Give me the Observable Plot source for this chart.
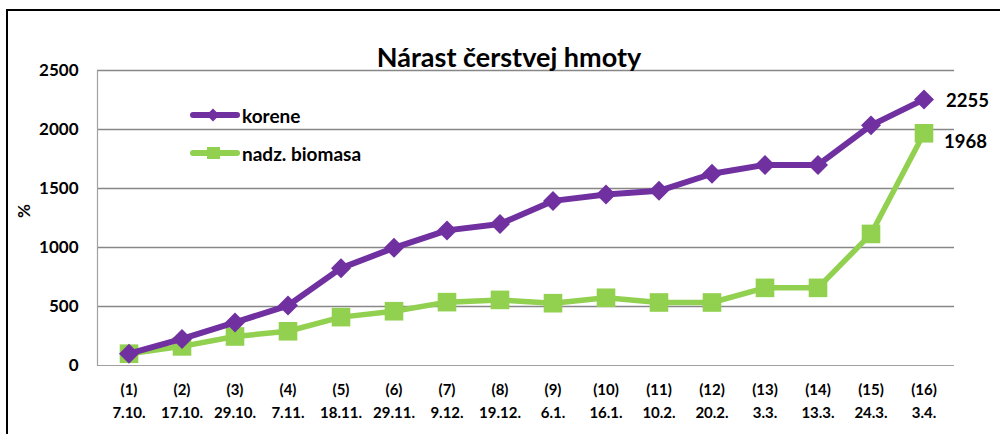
<!DOCTYPE html>
<html>
<head>
<meta charset="utf-8">
<script src="https://cdn.jsdelivr.net/npm/d3@7"></script>
<script src="https://cdn.jsdelivr.net/npm/@observablehq/plot@0.6"></script>
<style>
  html, body { margin: 0; padding: 0; background: #fff; }
  #wrap { position: relative; width: 1000px; height: 434px; overflow: hidden; font-family: Lato, "Open Sans", sans-serif; }
  #frame { position: absolute; left: 6px; top: 9px; width: 1100px; height: 500px; border-left: 2px solid #000; border-top: 2px solid #000; pointer-events: none; }
  #legend { position: absolute; left: 188px; top: 102px; font: bold 19px Lato, sans-serif; color: #000; }
  #legend .row { display: flex; align-items: center; height: 26px; margin-bottom: 12px; }
  #legend svg { display: block; margin-right: 1px; }
</style>
</head>
<body>
<div id="wrap">
  <div id="frame"></div>
  <div id="chart"></div>
  <div id="legend"></div>
</div>
<script>
const title = "Nárast čerstvej hmoty";
const yLabel = "%";
const indices = ["(1)","(2)","(3)","(4)","(5)","(6)","(7)","(8)","(9)","(10)","(11)","(12)","(13)","(14)","(15)","(16)"];
const dates = ["7.10.","17.10.","29.10.","7.11.","18.11.","29.11.","9.12.","19.12.","6.1.","16.1.","10.2.","20.2.","3.3.","13.3.","24.3.","3.4."];
const seriesNames = ["korene", "nadz. biomasa"];
const korene = [100, 225, 365, 508, 825, 997, 1145, 1200, 1395, 1450, 1480, 1625, 1700, 1700, 2035, 2255];
const nadz = [100, 162, 246, 290, 410, 460, 537, 556, 528, 574, 534, 534, 658, 658, 1115, 1968];
const yTicks = [0, 500, 1000, 1500, 2000, 2500];
const colors = ["#7030A0", "#92D050"];

const cats = indices.map((d, i) => d + "\n" + dates[i]);
const rowsK = korene.map((v, i) => ({cat: cats[i], value: v, series: seriesNames[0]}));
const rowsN = nadz.map((v, i) => ({cat: cats[i], value: v, series: seriesNames[1]}));
const lastK = rowsK.slice(-1), lastN = rowsN.slice(-1);

const chart = Plot.plot({
  width: 1000,
  height: 434,
  marginLeft: 97,
  marginRight: 46,
  marginTop: 70,
  marginBottom: 69,
  style: {fontFamily: "Lato, sans-serif", color: "#000", background: "transparent"},
  x: {type: "band", domain: cats, padding: 0},
  y: {domain: [0, 2500], ticks: yTicks},
  marks: [
    Plot.gridY(yTicks.filter(d => d > 0), {stroke: "#878787", strokeOpacity: 1, strokeWidth: 1.6}),
    Plot.ruleY([0], {stroke: "#a0a0a0", strokeWidth: 1}),
    Plot.frame({anchor: "left", stroke: "#a0a0a0", strokeWidth: 1.2}),
    Plot.axisY({ticks: yTicks, tickFormat: d => String(d), tickSize: 0, tickPadding: 19, fontSize: 17, fontWeight: "bold", label: null}),
    Plot.axisX({tickSize: 0, tickPadding: 14, fontSize: 15, fontWeight: "bold", lineHeight: 1.5, label: null}),
    Plot.text([yLabel], {frameAnchor: "left", dx: -73, rotate: -90, fontSize: 17, fontWeight: "bold"}),
    Plot.text([title], {frameAnchor: "top", dy: -23, dx: -17, fontSize: 27, fontWeight: "bold"}),
    Plot.line(rowsN, {x: "cat", y: "value", stroke: colors[1], strokeWidth: 5.5}),
    Plot.dot(rowsN, {x: "cat", y: "value", symbol: "square", r: 10.5, fill: colors[1], stroke: "none"}),
    Plot.line(rowsK, {x: "cat", y: "value", stroke: colors[0], strokeWidth: 6}),
    Plot.dot(rowsK, {x: "cat", y: "value", symbol: "diamond2", r: 9, fill: colors[0], stroke: "none"}),
    Plot.text(lastK, {x: "cat", y: "value", text: d => String(d.value), textAnchor: "start", dx: 22, dy: 2, fontSize: 18.5, fontWeight: "bold"}),
    Plot.text(lastN, {x: "cat", y: "value", text: d => String(d.value), textAnchor: "start", dx: 20, dy: 9, fontSize: 18.5, fontWeight: "bold"})
  ]
});
document.getElementById("chart").appendChild(chart);

// legend
const legend = document.getElementById("legend");
seriesNames.forEach((name, i) => {
  const row = document.createElement("div");
  row.className = "row";
  const marker = i === 0
    ? `<path d="M25,6.5 L31.5,13 L25,19.5 L18.5,13 Z" fill="${colors[0]}"/>`
    : `<rect x="19" y="7" width="13" height="12" fill="${colors[1]}"/>`;
  row.innerHTML = `<svg width="53" height="26"><line x1="5" x2="49" y1="13" y2="13" stroke="${colors[i]}" stroke-width="6" stroke-linecap="round"/>${marker}</svg><span>${name}</span>`;
  legend.appendChild(row);
});
</script>
</body>
</html>
